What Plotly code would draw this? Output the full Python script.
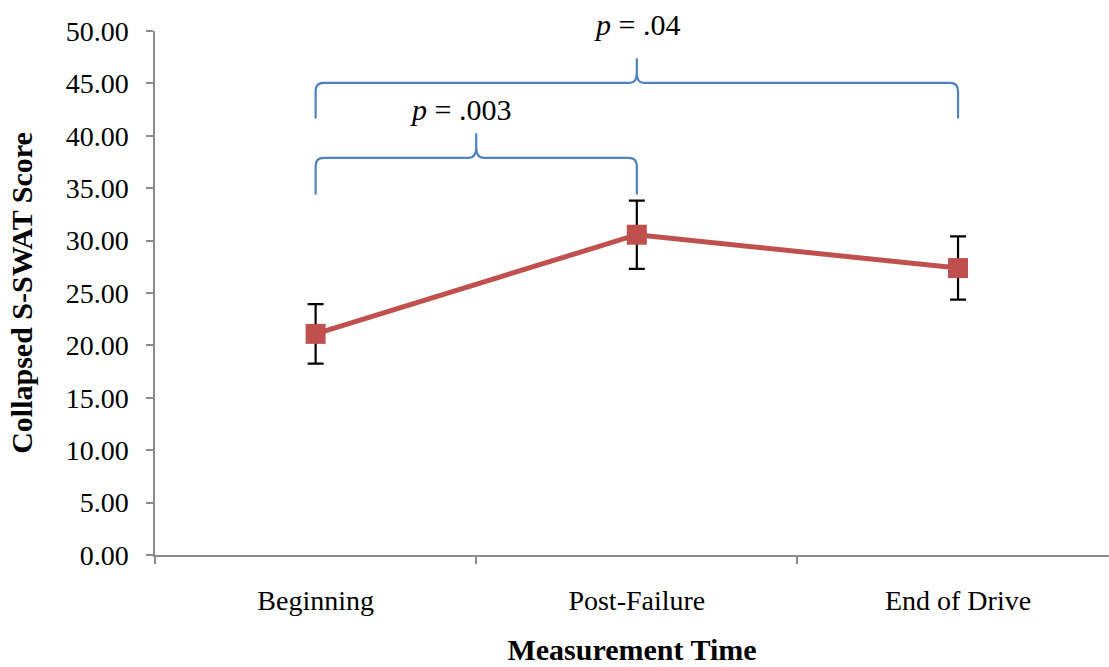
import plotly.graph_objects as go

# ---- data ----
categories = ["Beginning", "Post-Failure", "End of Drive"]
means = [21.1, 30.56, 27.38]
errors = [2.84, 3.25, 3.02]
y_ticks = [0, 5, 10, 15, 20, 25, 30, 35, 40, 45, 50]
y_tick_labels = [f"{v:.2f}" for v in y_ticks]

# comparison brackets
bracket_from = [0, 0]
bracket_to = [1, 2]
bracket_level = [37.9, 45.05]
bracket_drop = [3.5, 3.4]
bracket_labels = ["<i>p</i> = .003", "<i>p</i> = .04"]
label_x = [0.45, 1.0]
label_y = [42.5, 50.6]

FONT = "Liberation Serif, Times New Roman, serif"
RED = "#C0504D"
BLUE = "#4F81BD"
AXIS = "#8C8C8C"
Y_MAX = 50
PX_PER_UNIT = (667 - 112 - 31) / Y_MAX

x_idx = list(range(len(categories)))

fig = go.Figure()
fig.add_trace(go.Scatter(
    x=x_idx, y=means, mode="lines+markers",
    line=dict(color=RED, width=5),
    marker=dict(symbol="square", size=20, color=RED),
    error_y=dict(type="data", array=errors, visible=True,
                 color="black", thickness=2.2, width=8),
    showlegend=False, hoverinfo="skip",
))

def brace_path(x0, x1, yh, drop):
    rx, ry = 0.025, 0.8      # corner curvature (data units)
    cx, cy = 0.022, 1.0      # cusp curvature
    peak = 2.35
    xm = (x0 + x1) / 2
    yb = yh - drop
    return (f"M {x0},{yb} L {x0},{yh-ry} Q {x0},{yh} {x0+rx},{yh} "
            f"L {xm-cx},{yh} Q {xm},{yh} {xm},{yh+cy} L {xm},{yh+peak} "
            f"L {xm},{yh+cy} Q {xm},{yh} {xm+cx},{yh} "
            f"L {x1-rx},{yh} Q {x1},{yh} {x1},{yh-ry} L {x1},{yb}")

for a, b, lvl, d in zip(bracket_from, bracket_to, bracket_level, bracket_drop):
    fig.add_shape(type="path", path=brace_path(a, b, lvl, d), xref="x", yref="y",
                  line=dict(color=BLUE, width=2.2))

for lx, ly, lab in zip(label_x, label_y, bracket_labels):
    y_in = min(ly, Y_MAX)
    fig.add_annotation(x=lx, y=y_in, xref="x", yref="y", text=lab, showarrow=False,
                       yanchor="middle", xanchor="center",
                       yshift=(ly - y_in) * PX_PER_UNIT,
                       font=dict(family=FONT, size=30, color="black"))

fig.update_layout(
    width=1109, height=667,
    margin=dict(l=155, r=0, t=31, b=112),
    paper_bgcolor="white", plot_bgcolor="white",
    font=dict(family=FONT, size=28, color="black"),
    xaxis=dict(
        range=[-0.5, 2.47], tickvals=x_idx, ticktext=categories,
        ticks="", showgrid=False, zeroline=False,
        showline=True, linecolor=AXIS, linewidth=1.5,
        ticklabelstandoff=20,
        tickfont=dict(family=FONT, size=28),
        minor=dict(tickvals=[-0.5, 0.5, 1.5], ticks="outside", ticklen=7,
                   tickcolor=AXIS, tickwidth=1.5, showgrid=False),
        title=dict(text="<b>Measurement Time</b>", standoff=24,
                   font=dict(family=FONT, size=30)),
    ),
    yaxis=dict(
        range=[0, Y_MAX], tickvals=y_ticks, ticktext=y_tick_labels,
        ticks="outside", ticklen=7, tickcolor=AXIS, tickwidth=1.5,
        showgrid=False, zeroline=False,
        showline=True, linecolor=AXIS, linewidth=1.5,
        ticklabelstandoff=12,
        tickfont=dict(family=FONT, size=28),
        title=dict(text="<b>Collapsed S-SWAT Score</b>", standoff=24,
                   font=dict(family=FONT, size=30)),
    ),
)

fig.write_html("out.html")
